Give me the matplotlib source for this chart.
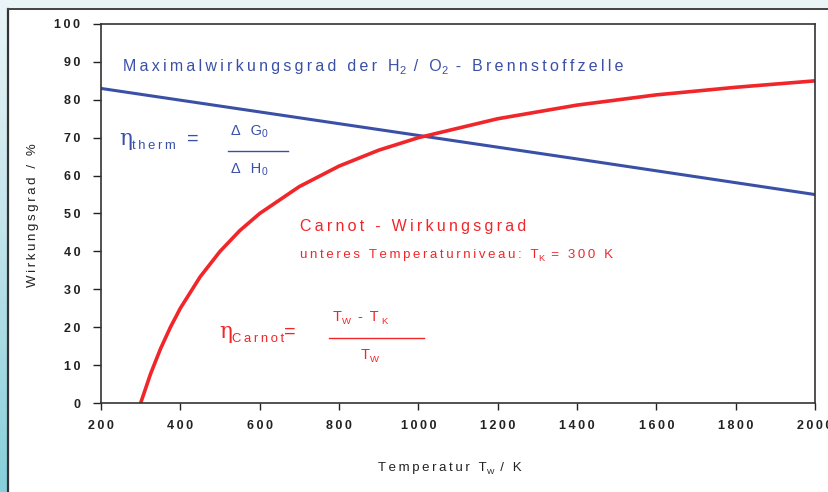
import numpy as np
import matplotlib.pyplot as plt
from matplotlib.lines import Line2D
from matplotlib.colors import LinearSegmentedColormap

# values
temp_blue = [200, 600, 1000, 1400, 2000]
eta_blue = [83.0, 76.8, 70.6, 64.4, 55.0]

temp_red = [300, 325, 350, 375, 400, 450, 500, 550, 600, 700, 800, 900,
            1000, 1200, 1400, 1600, 1800, 2000]
eta_red = [0.0, 7.7, 14.3, 20.0, 25.0, 33.3, 40.0, 45.5, 50.0, 57.1, 62.5,
           66.7, 70.0, 75.0, 78.6, 81.3, 83.3, 85.0]

x_ticks = [200, 400, 600, 800, 1000, 1200, 1400, 1600, 1800, 2000]
y_ticks = [0, 10, 20, 30, 40, 50, 60, 70, 80, 90, 100]

blue = '#3a50a6'
red = '#f0262a'
THIN = '\u2009'

plt.rcParams['font.family'] = ['Liberation Sans', 'DejaVu Sans']

W, H = 829, 492
fig = plt.figure(figsize=(W / 100, H / 100), dpi=100, facecolor='white')
renderer = fig.canvas.get_renderer()


def sp(s):
    # wide letter spacing like the original bitmap font
    return THIN.join(s)


def runs(x, y, parts, color, size):
    # parts: (text, scale, drop in px[, family]); x, y = pixels from top-left, baseline
    for part in parts:
        s, scale, dy = part[:3]
        kw = {'family': part[3]} if len(part) > 3 else {}
        t = fig.text(x / W, 1 - (y + dy) / H, s, fontsize=size * scale,
                     color=color, va='baseline', ha='left', **kw)
        x += t.get_window_extent(renderer).width


# light blue frame strips on the left and top
grad = fig.add_axes([0, 0, 8 / W, 1])
grad.imshow(np.linspace(0, 1, 100).reshape(-1, 1), aspect='auto',
            cmap=LinearSegmentedColormap.from_list('g', ['#e9f5f8', '#bfe3ea', '#86cfdb']),
            extent=[0, 1, 0, 1], origin='upper')
grad.axis('off')
top = fig.add_axes([8 / W, 1 - 8 / H, 1 - 8 / W, 8 / H])
top.set_facecolor('#eaf5f8')
top.set_xticks([])
top.set_yticks([])
for s in top.spines.values():
    s.set_visible(False)
fig.add_artist(Line2D([8.5 / W, 8.5 / W], [0, 1 - 8.5 / H], color='#333333', lw=1.6))
fig.add_artist(Line2D([8.5 / W, 1], [1 - 8.5 / H, 1 - 8.5 / H], color='#444444', lw=1.4))

ax = fig.add_axes([101 / W, 1 - 403 / H, (815 - 101) / W, (403 - 24) / H])
ax.plot(temp_blue, eta_blue, color=blue, lw=2.2)
ax.plot(temp_red, eta_red, color=red, lw=2.6)

ax.set_xlim(200, 2000)
ax.set_ylim(0, 100)
ax.set_xticks(x_ticks)
ax.set_xticklabels([sp(str(v)) for v in x_ticks])
ax.set_yticks(y_ticks)
ax.set_yticklabels([sp(str(v)) for v in y_ticks])
ax.tick_params(axis='x', direction='out', length=5, width=1, labelsize=9, colors='#222222', pad=7)
ax.tick_params(axis='y', direction='out', length=6, width=1, labelsize=9, colors='#222222', pad=9)
for lab in ax.get_xticklabels() + ax.get_yticklabels():
    lab.set_fontweight('bold')
for s in ax.spines.values():
    s.set_color('#333333')
    s.set_linewidth(1.2)

# axis titles
runs(378, 471, [(sp('Temperatur T'), 1, 0), ('W', 0.6, 3), (sp(' / K'), 1, 0)], '#222222', 9.5)
fig.text(33 / W, 1 - 215 / H, sp('Wirkungsgrad / %'), rotation=90, fontsize=9.5,
         color='#222222', ha='center', va='center')

# blue annotations
runs(123, 71, [(sp('Maximalwirkungsgrad der H'), 1, 0), ('2', 0.7, 3),
               (sp(' / O'), 1, 0), ('2', 0.7, 3), (sp(' - Brennstoffzelle'), 1, 0)], blue, 11.5)
runs(119, 145, [('η', 1.2, 0, 'DejaVu Serif'), (sp('therm'), 0.72, 4), ('  =', 1.1, 0)], blue, 13)
runs(231, 135, [(sp('Δ G'), 1, 0), ('0', 0.7, 2)], blue, 10.5)
fig.add_artist(Line2D([228 / W, 288 / W], [1 - 151 / H, 1 - 151 / H], color=blue, lw=1))
runs(231, 173, [(sp('Δ H'), 1, 0), ('0', 0.7, 2)], blue, 10.5)

# red annotations
runs(300, 231, [(sp('Carnot - Wirkungsgrad'), 1, 0)], red, 11.5)
runs(300, 258, [(sp('unteres Temperaturniveau: T'), 1, 0), ('K', 0.7, 3),
                (sp(' = 300 K'), 1, 0)], red, 9.5)
runs(219, 338, [('η', 1.2, 0, 'DejaVu Serif'), (sp('Carnot'), 0.72, 4), ('=', 1.1, 0)], red, 13)
runs(333, 321, [('T', 1, 0), ('W', 0.65, 3), (sp(' - ') + 'T' + THIN, 1, 0), ('K', 0.65, 3)], red, 10.5)
fig.add_artist(Line2D([329 / W, 424 / W], [1 - 338 / H, 1 - 338 / H], color=red, lw=1))
runs(361, 359, [('T', 1, 0), ('W', 0.65, 3)], red, 10.5)

fig.savefig('out.png', dpi=100, facecolor='white')
